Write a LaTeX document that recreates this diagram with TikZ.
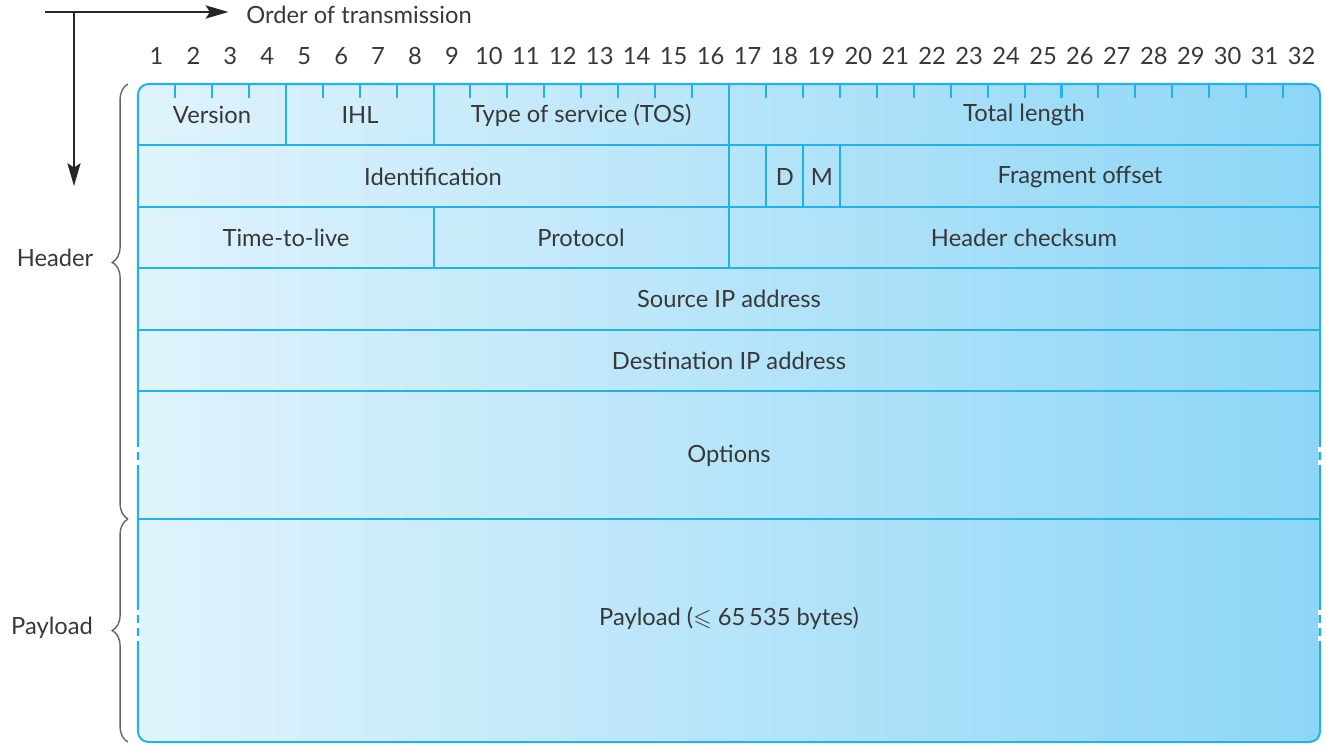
\documentclass[tikz,border=0pt]{standalone}
\usepackage{amssymb}
\usepackage{fontspec}
\setmainfont{Lato}
\usetikzlibrary{arrows.meta,decorations.pathreplacing}
\definecolor{fieldline}{HTML}{22B2EA}
\definecolor{fillleft}{HTML}{E0F3FC}
\definecolor{fillright}{HTML}{8DD6F6}
\definecolor{labeltext}{HTML}{383838}
\definecolor{bracegray}{HTML}{666666}

\begin{document}
\begin{tikzpicture}[x=0.02cm,y=-0.02cm,
	txt/.style={font=\fontsize{13.5}{16}\selectfont,text=labeltext,inner sep=0pt},
	sep/.style={draw=fieldline,line width=1.15pt},
	gap/.style={draw=white,line width=2.2pt},
	bigarrow/.style={draw=black!85,line width=0.8pt,-{Stealth[length=13pt,width=7.5pt,inset=2.5pt]}},
	hbrace/.style={draw=bracegray,line width=0.8pt,decorate,decoration={brace,amplitude=9pt}}]
	\useasboundingbox (0,0) rectangle (1326,748);
	% order of transmission
	\node[txt,anchor=west] (ord) at (246,15) {Order of transmission};
	\coordinate (start) at (45,12);
	\coordinate (corner) at (74,12);
	\coordinate (down) at (74,186);
	\draw[bigarrow,shorten >=10pt] (start) -- (ord.west |- start);
	\draw[bigarrow] (corner) -- (down);
	% bit numbers
	\foreach \k in {1,...,32}
		\node[txt] (b\k) at ({138+36.94*(\k-0.5)},56) {\k};
	% packet box
	\shade[rounded corners=6pt,left color=fillleft,right color=fillright] (138,84) rectangle (1320,742);
	\foreach \k in {1,2,3,5,6,7,9,10,...,15,17,18,...,31}
		\draw[sep] ({138+36.94*\k},84) -- ({138+36.94*\k},98);
	\foreach \y in {145,207,268,330,391,519}
		\draw[sep] (138,\y) -- (1320,\y);
	\foreach \k in {4,8,16}
		\draw[sep] ({138+36.94*\k},84) -- ({138+36.94*\k},145);
	\foreach \k in {16,17,18,19}
		\draw[sep] ({138+36.94*\k},145) -- ({138+36.94*\k},207);
	\foreach \k in {8,16}
		\draw[sep] ({138+36.94*\k},207) -- ({138+36.94*\k},268);
	\draw[sep,rounded corners=6pt] (138,84) rectangle (1320,742);
	% variable length marks
	\foreach \x in {138,1320} {
		\foreach \y in {449,462}
			\draw[gap] (\x,\y-2.5) -- (\x,\y+2.5);
		\foreach \y in {612,625,638}
			\draw[gap] (\x,\y-2.5) -- (\x,\y+2.5);
	}
	% fields
	\node[txt] (ver) at (212,115) {Version};
	\node[txt] (ihl) at (360,115) {IHL};
	\node[txt] (tos) at (581,115) {Type of service (TOS)};
	\node[txt] (totlen) at (1024,115) {Total length};
	\node[txt] (ident) at (433,177) {Identification};
	\node[txt] (dflag) at (785,177) {D};
	\node[txt] (mflag) at (822,177) {M};
	\node[txt] (fragoff) at (1080,177) {Fragment offset};
	\node[txt] (ttl) at (286,238) {Time-to-live};
	\node[txt] (proto) at (581,238) {Protocol};
	\node[txt] (hcs) at (1024,238) {Header checksum};
	\node[txt] (srcip) at (729,299) {Source IP address};
	\node[txt] (dstip) at (729,361) {Destination IP address};
	\node[txt] (opts) at (729,456) {Options};
	\node[txt] (payload) at (729,618) {Payload ($\leqslant$ 65\,535 bytes)};
	% braces
	\draw[hbrace,decoration={aspect=0.59}] (128,519) -- (128,84);
	\draw[hbrace,decoration={aspect=0.5}] (128,742) -- (128,519);
	\node[txt] (hdr) at (55,258) {Header};
	\node[txt] (pay) at (52,628) {Payload};
\end{tikzpicture}
\end{document}
